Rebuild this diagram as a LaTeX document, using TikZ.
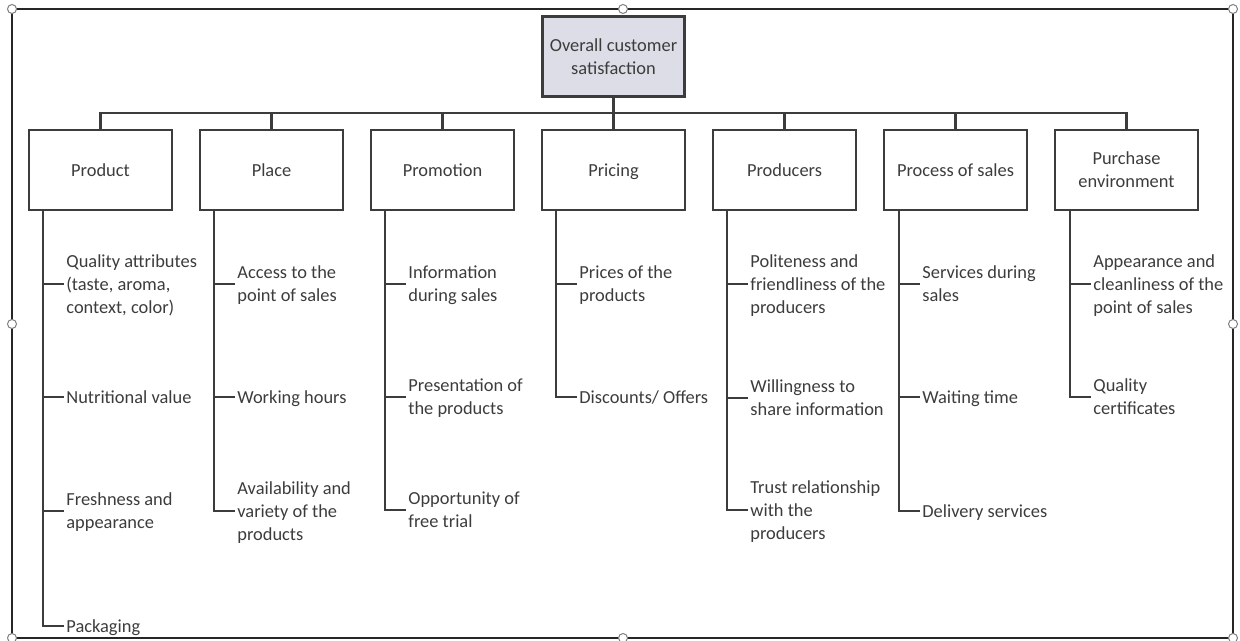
\documentclass[tikz,border=0pt]{standalone}
\usepackage{fontspec}
\setmainfont{Carlito}
\definecolor{rootfill}{HTML}{DCDDE6}
\definecolor{inkgray}{HTML}{3C3C3C}
% line strut: fixes the height and depth of every text line
\newcommand\ls{\rule[-2.6pt]{0pt}{11.5pt}}
\begin{document}
\begin{tikzpicture}[x=0.5pt,y=-0.5pt,
  txt/.style={text=inkgray, font=\fontsize{9.2}{11.5}\selectfont,
              execute at begin node=\ls, execute at end node=\ls},
  cat/.style={txt, draw=inkgray, line width=1.1pt, minimum width=71.5pt, minimum height=40pt, align=center, inner sep=1pt},
  rootbox/.style={cat, fill=rootfill, minimum width=71pt},
  item/.style={txt, anchor=west, align=left, inner sep=1pt},
  link/.style={draw=inkgray, line width=1.1pt},
  handle/.style={circle, draw=gray, fill=white, line width=0.5pt, inner sep=0pt, minimum size=4.5pt}
]
\useasboundingbox (0,0) rectangle (1240,641);

% outer frame with its handles
\draw[line width=0.8pt, black!85] (12,9) rectangle (1233,638);
\node[handle] (hTL) at (12,9) {};
\node[handle] (hTM) at (623,9) {};
\node[handle] (hTR) at (1233,9) {};
\node[handle] (hML) at (12,324) {};
\node[handle] (hMR) at (1233,324) {};
\node[handle] (hBL) at (12,638) {};
\node[handle] (hBM) at (623,638) {};
\node[handle] (hBR) at (1233,638) {};

% root and categories
\node[rootbox] (root) at (613.5,56.5) {\ls Overall customer\\\ls satisfaction};
\coordinate (bus) at (613.5,113);

\node[cat] (c1) at (100.5,170) {Product};
\node[cat] (c2) at (271.5,170) {Place};
\node[cat] (c3) at (442.5,170) {Promotion};
\node[cat] (c4) at (613.5,170) {Pricing};
\node[cat] (c5) at (784.5,170) {Producers};
\node[cat] (c6) at (955.5,170) {Process of sales};
\node[cat] (c7) at (1126.5,170) {\ls Purchase\\\ls environment};

\foreach \c in {c1,c2,c3,c4,c5,c6,c7}
  \draw[link] (root.south) -- (bus) -| (\c.north);

% spine tops
\coordinate (s1) at (43,210);
\coordinate (s2) at (214,210);
\coordinate (s3) at (385,210);
\coordinate (s4) at (556,210);
\coordinate (s5) at (727,210);
\coordinate (s6) at (899,210);
\coordinate (s7) at (1070,210);

% Product
\node[item] (p1) at (64,284) {\ls Quality attributes\\(taste, aroma,\\context, color)\ls};
\node[item] (p2) at (64,397) {Nutritional value};
\node[item] (p3) at (64,511) {\ls Freshness and\\appearance\ls};
\node[item] (p4) at (64,626) {Packaging};
% Place
\node[item] (l1) at (235,284) {\ls Access to the\\point of sales\ls};
\node[item] (l2) at (235,397) {Working hours};
\node[item] (l3) at (235,511) {\ls Availability and\\variety of the\\products\ls};
% Promotion
\node[item] (m1) at (406,284) {\ls Information\\during sales\ls};
\node[item] (m2) at (406,397) {\ls Presentation of\\the products\ls};
\node[item] (m3) at (406,510) {\ls Opportunity of\\free trial\ls};
% Pricing
\node[item] (r1) at (577,284) {\ls Prices of the\\products\ls};
\node[item] (r2) at (577,397) {Discounts/ Offers};
% Producers
\node[item] (d1) at (748,284) {\ls Politeness and\\friendliness of the\\producers\ls};
\node[item] (d2) at (748,398) {\ls Willingness to\\share information\ls};
\node[item] (d3) at (748,510) {\ls Trust relationship\\with the\\producers\ls};
% Process of sales
\node[item] (s61) at (920,284) {\ls Services during\\sales\ls};
\node[item] (s62) at (920,397) {Waiting time};
\node[item] (s63) at (920,511) {Delivery services};
% Purchase environment
\node[item] (e1) at (1091,284) {\ls Appearance and\\cleanliness of the\\point of sales\ls};
\node[item] (e2) at (1091,397) {\ls Quality\\certificates\ls};

\foreach \s/\n in {s1/p1,s1/p2,s1/p3,s1/p4,
                   s2/l1,s2/l2,s2/l3,
                   s3/m1,s3/m2,s3/m3,
                   s4/r1,s4/r2,
                   s5/d1,s5/d2,s5/d3,
                   s6/s61,s6/s62,s6/s63,
                   s7/e1,s7/e2}
  \draw[link] (\s) |- (\n.west);
\end{tikzpicture}
\end{document}
